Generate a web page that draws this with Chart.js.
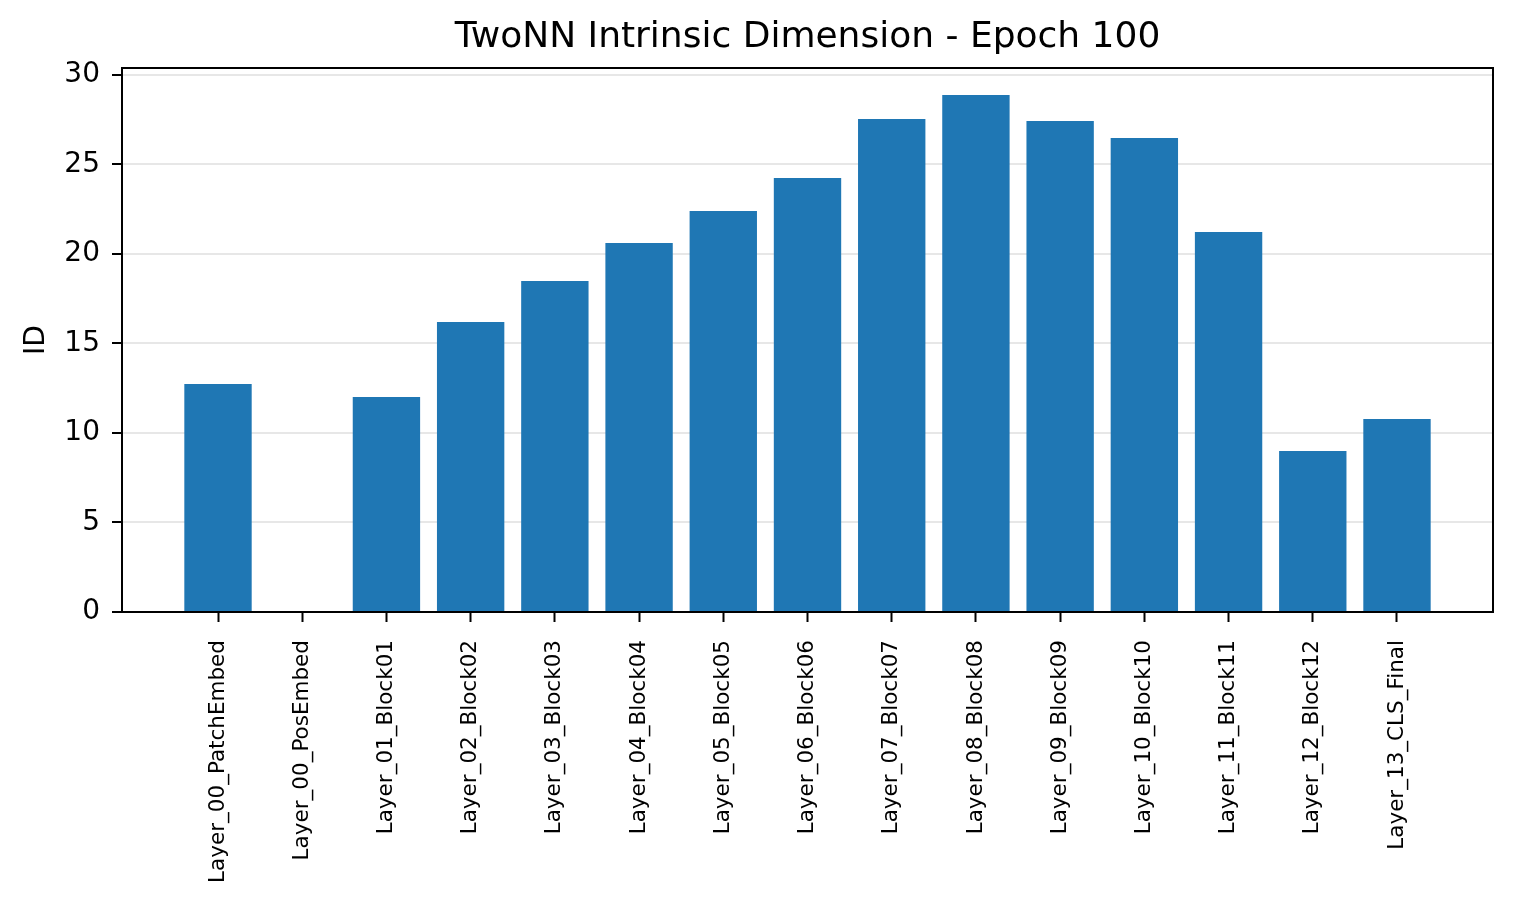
<!DOCTYPE html>
<html>
<head>
<meta charset="utf-8">
<script src="https://cdn.jsdelivr.net/npm/chart.js@4.4.0/dist/chart.umd.min.js"></script>
<style>
    body { margin: 0; background: #fff; }
    #contenedor { width: 1516px; height: 898px; position: relative; }
</style>
</head>
<body>
<div id="contenedor"><canvas id="myChart"></canvas></div>
<script>
// Datos del grafico
const capas = [
    'Layer_00_PatchEmbed', 'Layer_00_PosEmbed', 'Layer_01_Block01', 'Layer_02_Block02',
    'Layer_03_Block03', 'Layer_04_Block04', 'Layer_05_Block05', 'Layer_06_Block06',
    'Layer_07_Block07', 'Layer_08_Block08', 'Layer_09_Block09', 'Layer_10_Block10',
    'Layer_11_Block11', 'Layer_12_Block12', 'Layer_13_CLS_Final'
];
const valores_id = [12.74, 0, 12.01, 16.2, 18.49, 20.61, 22.4, 24.25, 27.54, 28.88, 27.43, 26.48, 21.23, 8.99, 10.78];
const ticks_y = [0, 5, 10, 15, 20, 25, 30];

const fuente = "'DejaVu Sans', sans-serif";
Chart.defaults.color = '#000';
Chart.defaults.font.family = fuente;

// marco negro alrededor del area
const marco = {
    id: 'marco',
    afterDraw(chart) {
        const {ctx, chartArea: a} = chart;
        ctx.save();
        ctx.strokeStyle = '#000';
        ctx.lineWidth = 2;
        ctx.strokeRect(a.left, a.top, a.right - a.left, a.bottom - a.top);
        ctx.restore();
    }
};

const ctx = document.getElementById('myChart').getContext('2d');
const myChart = new Chart(ctx, {
    type: 'bar',
    data: {
        datasets: [{
            label: 'ID',
            data: valores_id.map((v, i) => ({x: i, y: v})),
            backgroundColor: '#1f77b4',
            borderWidth: 0,
            categoryPercentage: 0.8,
            barPercentage: 1.0
        }]
    },
    options: {
        responsive: true,
        maintainAspectRatio: false,
        animation: false,
        layout: { padding: { left: 0, right: 23, top: 0, bottom: 0 } },
        plugins: {
            legend: { display: false },
            tooltip: { enabled: false },
            title: {
                display: true,
                fullSize: false,
                text: 'TwoNN Intrinsic Dimension - Epoch 100',
                font: { size: 36, weight: 'normal' },
                padding: { top: 16, bottom: 8.8 }
            }
        },
        scales: {
            x: {
                type: 'linear',
                min: -1.14,
                max: 15.14,
                offset: false,
                afterBuildTicks: (axis) => {
                    axis.ticks = capas.map((c, i) => ({value: i}));
                },
                afterFit: (scale) => { scale.height = 286; },
                ticks: {
                    autoSkip: false,
                    minRotation: 90,
                    maxRotation: 90,
                    padding: 18,
                    font: { size: 21.5 },
                    callback: (v) => capas[v]
                },
                grid: {
                    offset: false,
                    drawOnChartArea: false,
                    tickColor: '#000',
                    tickLength: 10,
                    tickWidth: 2
                },
                border: { color: '#000', width: 2 }
            },
            y: {
                min: 0,
                max: 30.39,
                z: 1,
                afterBuildTicks: (axis) => {
                    axis.ticks = ticks_y.map((t) => ({value: t}));
                },
                afterFit: (scale) => { scale.width = 122; },
                ticks: {
                    padding: 12,
                    font: { size: 28 }
                },
                title: {
                    display: true,
                    text: 'ID',
                    font: { size: 28 },
                    padding: { top: 20, bottom: 0 }
                },
                grid: {
                    color: 'rgba(176,176,176,0.3)',
                    lineWidth: 2,
                    tickColor: '#000',
                    tickLength: 10,
                    tickWidth: 2
                },
                border: { color: '#000', width: 2 }
            }
        }
    },
    plugins: [marco]
});
</script>
</body>
</html>
